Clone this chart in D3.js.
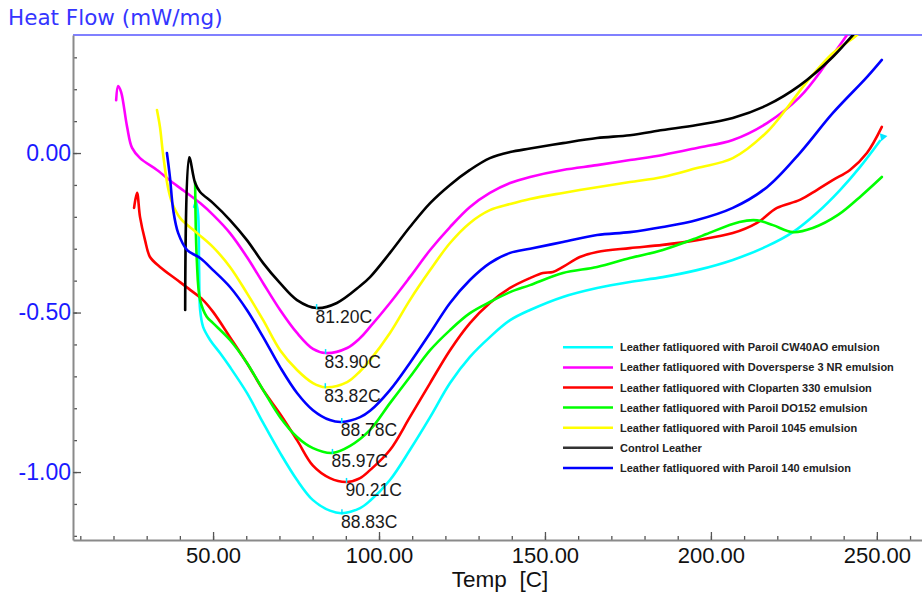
<!DOCTYPE html>
<html><head><meta charset="utf-8">
<script src="https://cdn.jsdelivr.net/npm/d3@7"></script>
<style>body{margin:0;background:#fff}svg{display:block}</style>
</head><body>
<svg id="c" width="922" height="599"></svg>
<script>
// ---- data ----
const seriesNames = [
  "Leather fatliquored with Paroil CW40AO emulsion",
  "Leather fatliquored with Doversperse 3 NR emulsion",
  "Leather fatliquored with Cloparten 330 emulsion",
  "Leather fatliquored with Paroil DO152 emulsion",
  "Leather fatliquored with Paroil 1045 emulsion",
  "Control Leather",
  "Leather fatliquored with Paroil 140 emulsion"
];
const seriesColors = ["#00ffff","#ff00ff","#ff0000","#00ff00","#ffff00","#000000","#0000ff"];
const peakTemps = [88.83, 83.90, 90.21, 85.97, 83.82, 81.20, 88.78];
const peakFlows = [-1.129, -0.627, -1.031, -0.940, -0.734, -0.486, -0.843];
const xMajorTicks = [50, 100, 150, 200, 250];
const yMajorTicks = [0, -0.5, -1.0];

// [Temp C, Heat flow mW/mg]
const cw40ao = [[44.3,-0.169],[44.9,-0.154],[45.5,-0.194],[45.8,-0.367],[46.1,-0.492],[47.0,-0.545],[49.1,-0.586],[52.1,-0.627],[55.1,-0.671],[60.2,-0.752],[65.1,-0.846],[70.2,-0.940],[75.3,-1.025],[80.1,-1.088],[85.2,-1.121],[88.83,-1.129],[94.3,-1.113],[97.3,-1.090],[103.3,-1.025],[109.3,-0.931],[115.4,-0.828],[121.4,-0.721],[127.4,-0.639],[133.4,-0.577],[139.5,-0.524],[145.5,-0.492],[155.4,-0.451],[165.7,-0.423],[175.6,-0.404],[185.5,-0.389],[195.8,-0.367],[206.6,-0.335],[216.9,-0.292],[224.7,-0.248],[231.9,-0.188],[238.9,-0.116],[244.9,-0.044],[250.9,0.038]];
const doversperse = [[20.8,0.166],[21.4,0.210],[22.3,0.191],[24.1,0.082],[25.6,0.016],[28.0,-0.016],[33.1,-0.053],[38.0,-0.094],[40.1,-0.110],[46.1,-0.157],[50.0,-0.194],[55.1,-0.251],[60.2,-0.326],[65.1,-0.408],[70.2,-0.492],[75.3,-0.564],[80.1,-0.614],[83.9,-0.627],[90.4,-0.611],[94.3,-0.580],[97.3,-0.545],[103.3,-0.470],[109.3,-0.389],[115.4,-0.304],[121.4,-0.232],[127.4,-0.169],[133.4,-0.125],[139.5,-0.094],[145.5,-0.075],[155.4,-0.053],[165.7,-0.038],[175.6,-0.022],[185.5,-0.006],[195.8,0.016],[206.6,0.041],[216.9,0.094],[226.8,0.176],[234.9,0.282],[241.0,0.370],[242.5,0.392]];
const cloparten = [[26.2,-0.172],[27.1,-0.125],[28.0,-0.201],[29.5,-0.273],[31.0,-0.326],[34.0,-0.357],[39.2,-0.398],[43.1,-0.429],[47.0,-0.461],[50.0,-0.498],[55.1,-0.577],[60.2,-0.658],[65.1,-0.743],[70.2,-0.818],[75.3,-0.900],[80.1,-0.980],[85.2,-1.019],[90.21,-1.031],[94.3,-1.019],[97.3,-0.994],[103.3,-0.931],[109.3,-0.828],[115.4,-0.721],[121.4,-0.618],[127.4,-0.533],[133.4,-0.470],[139.5,-0.423],[145.5,-0.392],[149.4,-0.376],[152.4,-0.373],[155.4,-0.357],[160.5,-0.326],[165.7,-0.310],[175.6,-0.298],[185.5,-0.288],[195.8,-0.273],[206.6,-0.251],[213.9,-0.219],[219.9,-0.172],[226.8,-0.147],[231.9,-0.116],[236.7,-0.085],[241.9,-0.053],[247.0,0.0],[251.5,0.082]];
const paroilDO152 = [[44.6,-0.091],[45.1,-0.335],[46.1,-0.461],[48.1,-0.513],[50.0,-0.533],[55.1,-0.586],[60.2,-0.658],[65.1,-0.743],[70.2,-0.828],[75.3,-0.890],[80.1,-0.925],[85.97,-0.940],[91.3,-0.918],[97.3,-0.868],[103.3,-0.784],[109.3,-0.702],[115.4,-0.618],[121.4,-0.555],[127.4,-0.502],[133.4,-0.467],[139.5,-0.436],[145.5,-0.414],[155.4,-0.376],[165.7,-0.357],[175.6,-0.329],[185.5,-0.304],[195.8,-0.266],[198.7,-0.254],[208.6,-0.216],[213.9,-0.211],[218.7,-0.226],[224.7,-0.248],[230.7,-0.235],[238.3,-0.194],[245.5,-0.132],[251.5,-0.075]];
const paroil1045 = [[33.1,0.135],[34.0,0.082],[34.9,0.0],[36.4,-0.107],[37.7,-0.157],[40.1,-0.204],[45.2,-0.251],[50.0,-0.295],[55.1,-0.357],[60.2,-0.439],[65.1,-0.524],[70.2,-0.618],[75.3,-0.680],[80.1,-0.721],[83.82,-0.734],[90.4,-0.718],[94.3,-0.684],[97.3,-0.649],[103.3,-0.564],[109.3,-0.461],[115.4,-0.367],[121.4,-0.282],[127.4,-0.219],[133.4,-0.179],[139.5,-0.160],[145.5,-0.144],[155.4,-0.125],[165.7,-0.107],[175.6,-0.091],[185.5,-0.075],[195.8,-0.047],[206.6,-0.016],[216.9,0.066],[222.9,0.141],[228.9,0.223],[236.7,0.313],[244.0,0.370],[245.5,0.389]];
const control = [[41.6,-0.492],[42.8,-0.013],[44.6,-0.094],[46.1,-0.122],[50.0,-0.157],[55.1,-0.210],[60.2,-0.273],[65.1,-0.345],[70.2,-0.408],[75.3,-0.461],[81.2,-0.486],[87.3,-0.470],[94.3,-0.417],[97.3,-0.389],[103.3,-0.313],[109.3,-0.232],[115.4,-0.157],[121.4,-0.100],[127.4,-0.053],[133.4,-0.016],[139.5,0.003],[145.5,0.014],[155.4,0.031],[165.7,0.047],[175.6,0.056],[185.5,0.072],[195.8,0.088],[206.6,0.110],[216.9,0.150],[226.8,0.212],[236.7,0.301],[242.8,0.370],[244.9,0.392]];
const paroil140 = [[36.1,0.0],[37.0,-0.075],[38.0,-0.179],[39.5,-0.251],[42.2,-0.304],[46.1,-0.329],[50.0,-0.367],[55.1,-0.420],[60.2,-0.492],[65.1,-0.577],[70.2,-0.671],[75.3,-0.752],[80.1,-0.806],[85.2,-0.837],[88.78,-0.843],[94.3,-0.828],[97.3,-0.808],[103.3,-0.743],[109.3,-0.658],[115.4,-0.564],[121.4,-0.470],[127.4,-0.398],[133.4,-0.345],[139.5,-0.313],[145.5,-0.300],[155.4,-0.279],[165.7,-0.257],[175.6,-0.248],[185.5,-0.232],[195.8,-0.210],[206.6,-0.172],[216.9,-0.107],[226.8,0.0],[236.7,0.125],[247.0,0.238],[251.5,0.292]];

const seriesData = [cw40ao, doversperse, cloparten, paroilDO152, paroil1045, control, paroil140];

// ---- drawing ----
const svg = d3.select("#c");
const L = 73, R = 922, T = 35, B = 540;
const x = d3.scaleLinear().domain([7.8, 263.6]).range([L, R]);
const y = d3.scaleLinear().domain([-1.213, 0.370]).range([B, T]);

svg.append("defs").append("clipPath").attr("id","plot")
  .append("rect").attr("x",L).attr("y",T).attr("width",R-L).attr("height",B-T);

// title
svg.append("text").attr("x",8).attr("y",25)
  .attr("font-family","DejaVu Sans, Verdana, sans-serif").attr("font-size",21.5)
  .attr("fill","#3535ff").text("Heat Flow (mW/mg)");

// top border
svg.append("line").attr("x1",L).attr("x2",R).attr("y1",y(0.37)).attr("y2",y(0.37))
  .attr("stroke","#8080ff").attr("stroke-width",2);

// axes
function styleAxis(g){
  g.select(".domain").attr("stroke","#8a8a8a").attr("stroke-width",2);
  g.selectAll(".tick line").attr("stroke","#555").attr("stroke-width",1.3);
}
const gxMinor = svg.append("g").attr("transform",`translate(0,${B})`)
  .call(d3.axisBottom(x).tickValues(d3.range(10, 261, 10)).tickSize(-4).tickFormat(""));
gxMinor.select(".domain").remove();
gxMinor.selectAll(".tick line").attr("stroke","#555").attr("stroke-width",1.3);
const gx = svg.append("g").attr("transform",`translate(0,${B})`)
  .call(d3.axisBottom(x).tickValues(xMajorTicks).tickSize(-8).tickSizeOuter(0).tickPadding(7)
    .tickFormat(d => d.toFixed(2)));
styleAxis(gx);
gx.selectAll(".tick text").attr("font-family","Liberation Sans, Arial, sans-serif")
  .attr("font-size",22).attr("fill","#111");

const gyMinor = svg.append("g").attr("transform",`translate(${L},0)`)
  .call(d3.axisLeft(y).tickValues(d3.range(-12, 4, 1).map(v => v/10)).tickSize(-4).tickFormat(""));
gyMinor.select(".domain").remove();
gyMinor.selectAll(".tick line").attr("stroke","#555").attr("stroke-width",1.3);
const gy = svg.append("g").attr("transform",`translate(${L},0)`)
  .call(d3.axisLeft(y).tickValues(yMajorTicks).tickSize(-8).tickSizeOuter(0).tickPadding(2)
    .tickFormat(d => d.toFixed(2)));
styleAxis(gy);
gy.selectAll(".tick text").attr("font-family","Liberation Sans, Arial, sans-serif")
  .attr("font-size",23).attr("fill","#1a1aff");

// x axis title
svg.append("text").attr("x",500).attr("y",587).attr("text-anchor","middle")
  .attr("font-family","Liberation Sans, Arial, sans-serif").attr("font-size",22.5)
  .attr("fill","#111").style("white-space","pre").text("Temp  [C]");

// curves
const line = d3.line().x(d => x(d[0])).y(d => y(d[1])).curve(d3.curveCatmullRom.alpha(0.5));
const plot = svg.append("g").attr("clip-path","url(#plot)");
plot.selectAll("path.series").data(seriesData).join("path")
  .attr("class","series").attr("d", line).attr("fill","none")
  .attr("stroke",(d,i) => seriesColors[i]).attr("stroke-width",2.6)
  .attr("stroke-linejoin","round").attr("stroke-linecap","round");

// end marker on CW40AO
const last = cw40ao[cw40ao.length-1];
plot.append("path").attr("d", d3.symbol().type(d3.symbolTriangle).size(28)())
  .attr("transform",`translate(${x(last[0])+3},${y(last[1])-4}) rotate(200)`)
  .attr("fill","#00e5ff");

// peak markers and labels
const ann = svg.append("g");
peakTemps.forEach((t,i) => {
  const px = x(t), py = y(peakFlows[i]);
  ann.append("line").attr("x1",px).attr("x2",px).attr("y1",py-4).attr("y2",py+1)
    .attr("stroke","#00e5ff").attr("stroke-width",1.5);
  ann.append("text").attr("x",px-1).attr("y",py+14.5)
    .attr("font-family","Liberation Sans, Arial, sans-serif").attr("font-size",17.5)
    .attr("fill","#1a1a1a").text(t.toFixed(2) + "C");
});

// legend
const leg = svg.append("g");
seriesNames.forEach((name,i) => {
  const yy = 347.3 + i*20.1;
  leg.append("line").attr("x1",563).attr("x2",613).attr("y1",yy).attr("y2",yy)
    .attr("stroke", i===5 ? "#333" : seriesColors[i]).attr("stroke-width",2.5);
  leg.append("text").attr("x",620).attr("y",yy+4)
    .attr("font-family","Liberation Sans, Arial, sans-serif").attr("font-size",11)
    .attr("font-weight","bold").attr("fill","#222").text(name);
});
</script>
</body></html>
